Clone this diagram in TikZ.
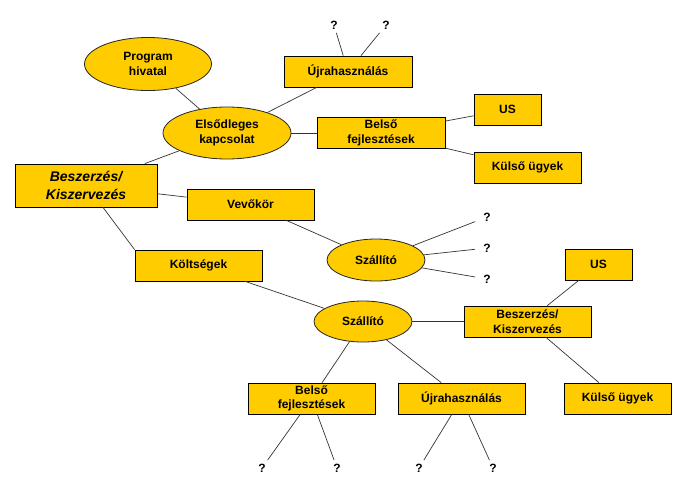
\documentclass[tikz,border=0pt]{standalone}
\usepackage{fontspec}
\setmainfont{Liberation Sans}
\usetikzlibrary{shapes.geometric}
\definecolor{gold}{HTML}{FFCC00}

\begin{document}
\begin{tikzpicture}[x=1pt,y=-1pt,
        box/.style={draw=black,line width=0.8pt,fill=gold,minimum height=31pt,inner sep=1pt,align=center,font=\fontsize{12}{14.5}\selectfont\bfseries},
        oval/.style={ellipse,draw=black!85,line width=0.8pt,fill=gold,inner sep=0pt,align=center,font=\fontsize{12}{14.5}\selectfont\bfseries},
        qmark/.style={inner xsep=8pt,inner ysep=3.5pt,font=\fontsize{12}{14.5}\selectfont\bfseries},
        link/.style={draw=black!80,line width=0.7pt}]
            \useasboundingbox (0,0) rectangle (687,493);

            % Draw upper branch
            \node[oval,minimum width=127pt,minimum height=53pt] (prog) at (148,64) {Program\\hivatal};
            \node[oval,minimum width=128pt,minimum height=52pt] (elso) at (227,133) {Elsődleges\\kapcsolat};
            \node[box,minimum width=128pt] (ujraA) at (348,71.5) {Újrahasználás};
            \node[box,minimum width=128pt] (belsoA) at (381,133) {Belső\\fejlesztések};
            \node[box,minimum width=67pt] (usA) at (507.5,109.5) {US};
            \node[box,minimum width=107pt] (kulsoA) at (527.5,167.5) {Külső ügyek};

            % Draw root and middle branch
            \node[box,minimum width=142pt,minimum height=43pt,font=\fontsize{14}{17.5}\selectfont\bfseries\itshape] (beszA) at (86,185.5) {Beszerzés/\\Kiszervezés};
            \node[box,minimum width=127pt] (vevo) at (250.5,204.5) {Vevőkör};
            \node[oval,minimum width=98pt,minimum height=42pt] (szallA) at (376,260) {Szállító};

            % Draw lower branch
            \node[box,minimum width=127pt] (kolts) at (198.5,265.5) {Költségek};
            \node[oval,minimum width=98pt,minimum height=41pt] (szallB) at (363,321.5) {Szállító};
            \node[box,minimum width=127pt] (beszB) at (527.5,321.5) {Beszerzés/\\Kiszervezés};
            \node[box,minimum width=67pt] (usB) at (598.5,264.5) {US};
            \node[box,minimum width=107pt] (kulsoB) at (617.5,398.5) {Külső ügyek};
            \node[box,minimum width=127pt] (belsoB) at (311.5,398.5) {Belső\\fejlesztések};
            \node[box,minimum width=127pt] (ujraB) at (461.5,398.5) {Újrahasználás};

            % Draw open ends
            \node[qmark] (q1) at (334,25) {?};
            \node[qmark] (q2) at (386,25) {?};
            \node[qmark] (q3) at (487,217) {?};
            \node[qmark] (q4) at (487,248) {?};
            \node[qmark] (q5) at (487,279) {?};
            \node[qmark] (q6) at (262,468) {?};
            \node[qmark] (q7) at (337,468) {?};
            \node[qmark] (q8) at (419,468) {?};
            \node[qmark] (q9) at (493,468) {?};

            % Draw connections
            \draw[link] (prog) -- (elso);
            \draw[link] (elso) -- (ujraA);
            \draw[link] (elso) -- (belsoA);
            \draw[link] (belsoA) -- (usA);
            \draw[link] (belsoA) -- (kulsoA);
            \draw[link] (elso) -- (beszA);
            \draw[link] (beszA) -- (vevo);
            \draw[link] ([xshift=17pt]beszA.south) -- (kolts.north west);
            \draw[link] (vevo) -- (szallA);
            \draw[link] (kolts) -- (szallB);
            \draw[link] (szallB) -- (beszB);
            \draw[link] (szallB) -- (belsoB);
            \draw[link] (szallB) -- (ujraB);
            \draw[link] (beszB) -- (usB);
            \draw[link] (beszB) -- (kulsoB);

            % Draw lines to the open ends
            \draw[link] (ujraA) -- (q1);
            \draw[link] (ujraA) -- (q2);
            \draw[link] (szallA) -- (q3);
            \draw[link] (szallA) -- (q4);
            \draw[link] (szallA) -- (q5);
            \draw[link] (belsoB) -- (q6);
            \draw[link] (belsoB) -- (q7);
            \draw[link] (ujraB) -- (q8);
            \draw[link] (ujraB) -- (q9);
        \end{tikzpicture}
\end{document}
